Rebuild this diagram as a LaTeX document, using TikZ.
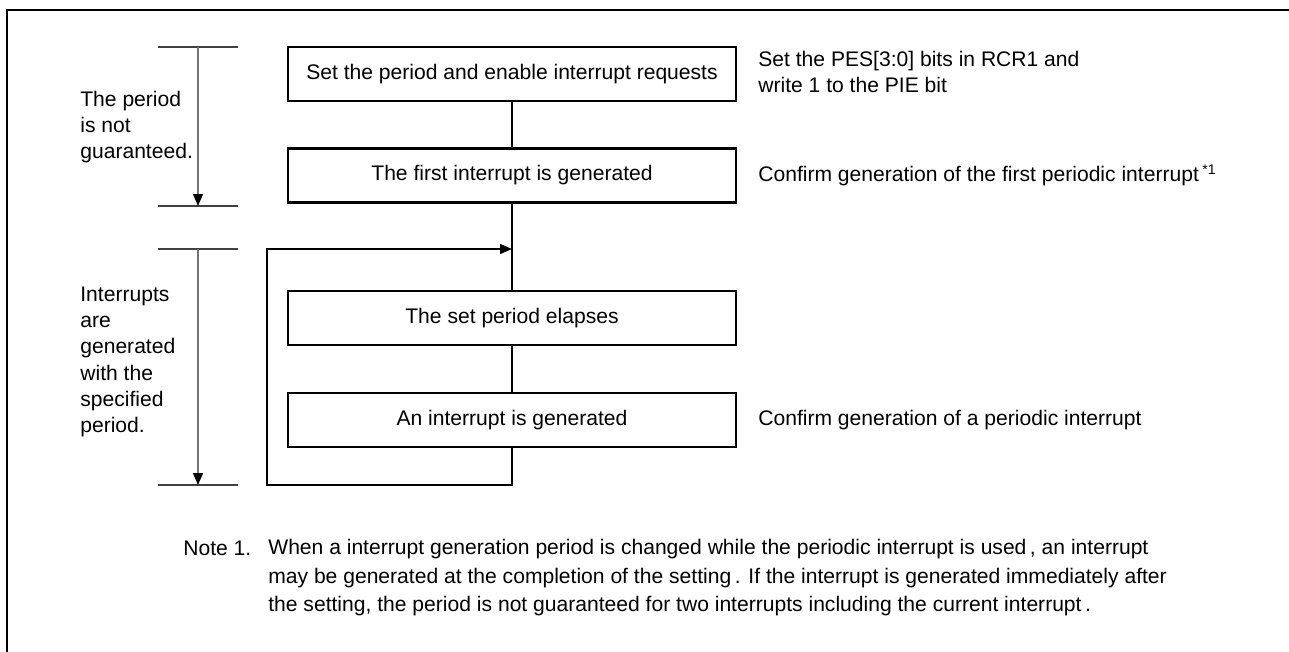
\documentclass[tikz,border=0pt]{standalone}
\usepackage{fontspec}
\setmainfont{Liberation Sans}
\usetikzlibrary{arrows.meta}

\tikzset{
  stepbox/.style={draw, line width=1.4pt, minimum width=8.96cm, minimum height=1.08cm,
                  inner sep=0pt, font=\fontsize{12}{14}\selectfont},
  flow/.style={line width=0.8pt},
  span/.style={draw=black!55, line width=0.7pt,
               -{Triangle[length=0.24cm, width=0.2cm, color=black]}},
  tick/.style={draw=black!75, line width=0.7pt},
  remark/.style={anchor=west, inner sep=0pt, align=left,
                 font=\fontsize{12}{14.4}\selectfont},
  sideline/.style={remark, font=\fontsize{12}{14.9}\selectfont},
  notetext/.style={remark, font=\fontsize{12}{16.2}\selectfont},
}

\begin{document}
\begin{tikzpicture}[x=0.02cm, y=-0.02cm]
  \useasboundingbox (0, 0) rectangle (1289, 652);

  % frame
  \draw [line width=1.7pt] (7, 652) -- (7, 10) -- (1289, 10);

  % flow boxes
  \node [stepbox] (set)    at (512, 74)  {Set the period and enable interrupt requests};
  \node [stepbox] (first)  at (512, 175.5) {The first interrupt is generated};
  \node [stepbox] (elapse) at (512, 318) {The set period elapses};
  \node [stepbox] (gen)    at (512, 420) {An interrupt is generated};

  \coordinate (join) at (512, 249);
  \coordinate (loopcorner) at (267, 485);

  \draw [flow] (set) -- (first);
  \draw [flow] (first) -- (elapse);
  \draw [flow] (elapse) -- (gen);
  \draw [flow, -{Triangle[length=0.24cm, width=0.2cm]}]
        (gen.south) |- (loopcorner) |- (join);

  % period spans
  \coordinate (P-top) at (198, 47);
  \coordinate (P-bot) at (198, 206);
  \coordinate (I-top) at (198, 249);
  \coordinate (I-bot) at (198, 485);

  \foreach \p in {P-top, P-bot, I-top, I-bot}
  {
    \draw [tick] ([xshift=-0.8cm]\p) -- ([xshift=0.8cm]\p);
  }
  \draw [span] (P-top) -- (P-bot);
  \draw [span] (I-top) -- (I-bot);

  \node [sideline] (notsure) at (80, 127) {The period\\is not\\guaranteed.};
  \node [sideline] (cyclic)  at (80, 362) {Interrupts\\are\\generated\\with the\\specified\\period.};

  % remarks on the right
  \node [remark] (setbits)    at (758, 72)  {Set the PES[3:0] bits in RCR1 and\\write 1 to the PIE bit};
  \node [remark] (firstcheck) at (758, 175.5) {Confirm generation of the first periodic interrupt\,\textsuperscript{*1}};
  \node [remark] (gencheck)   at (758, 420) {Confirm generation of a periodic interrupt};

  % note
  \node [notetext] (notelabel) at (183, 548) {Note 1.};
  \node [notetext, anchor=north west] (notebody) at (268, 539)
        {When a interrupt generation period is changed while the periodic interrupt is used\,, an interrupt\\
        may be generated at the completion of the setting\,. If the interrupt is generated immediately after\\
        the setting, the period is not guaranteed for two interrupts including the current interrupt\,.};
\end{tikzpicture}
\end{document}
